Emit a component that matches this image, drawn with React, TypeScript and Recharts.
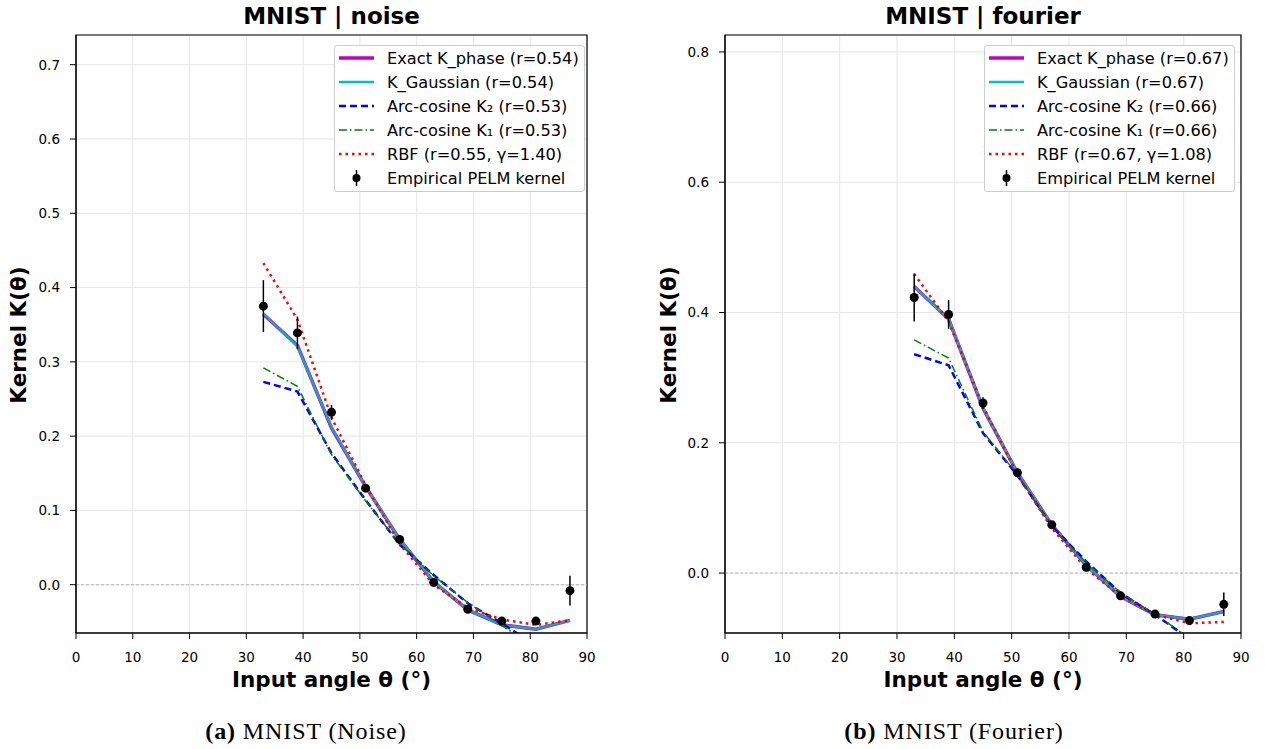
import React from 'react';
import {
  ComposedChart,
  Line,
  Scatter,
  ErrorBar,
  XAxis,
  YAxis,
  CartesianGrid,
  ReferenceLine,
  ReferenceArea,
} from 'recharts';

// input angles (degrees)
const angles = [33, 39, 45, 51, 57, 63, 69, 75, 81, 87];
const xTicks = [0, 10, 20, 30, 40, 50, 60, 70, 80, 90];

// MNIST | noise
const noiseEmp = [0.375, 0.339, 0.232, 0.13, 0.061, 0.003, -0.033, -0.049, -0.049, -0.008];
const noiseErr = [0.035, 0.022, 0.01, 0.005, 0.004, 0.004, 0.004, 0.004, 0.004, 0.02];
const noisePhase = [0.364, 0.322, 0.211, 0.132, 0.061, 0.004, -0.034, -0.054, -0.06, -0.048];
const noiseGauss = [0.365, 0.321, 0.212, 0.132, 0.061, 0.004, -0.034, -0.054, -0.06, -0.048];
const noiseArc2 = [0.273, 0.26, 0.177, 0.114, 0.054, 0.013, -0.025, -0.052, -0.082, -0.108];
const noiseArc1 = [0.292, 0.267, 0.175, 0.113, 0.055, 0.012, -0.024, -0.055, -0.085, -0.112];
const noiseRbf = [0.433, 0.357, 0.225, 0.134, 0.055, 0.0, -0.031, -0.047, -0.054, -0.048];
const noiseTicks = [0, 0.1, 0.2, 0.3, 0.4, 0.5, 0.6, 0.7];
const noiseLabels = ['0.54', '0.54', '0.53', '0.53', '0.55', '1.40'];

// MNIST | fourier
const fourierEmp = [0.423, 0.397, 0.261, 0.154, 0.074, 0.009, -0.035, -0.063, -0.073, -0.048];
const fourierErr = [0.037, 0.022, 0.009, 0.005, 0.004, 0.004, 0.004, 0.004, 0.004, 0.018];
const fourierPhase = [0.44, 0.39, 0.253, 0.154, 0.074, 0.012, -0.036, -0.064, -0.071, -0.059];
const fourierGauss = [0.44, 0.39, 0.254, 0.154, 0.074, 0.012, -0.036, -0.064, -0.071, -0.059];
const fourierArc2 = [0.336, 0.319, 0.215, 0.15, 0.072, 0.018, -0.031, -0.064, -0.101, -0.135];
const fourierArc1 = [0.358, 0.33, 0.217, 0.151, 0.071, 0.016, -0.03, -0.063, -0.1, -0.135];
const fourierRbf = [0.459, 0.386, 0.256, 0.151, 0.069, 0.007, -0.036, -0.064, -0.077, -0.075];
const fourierTicks = [0, 0.2, 0.4, 0.6, 0.8];
const fourierLabels = ['0.67', '0.67', '0.66', '0.66', '0.67', '1.08'];

const FONT = '"DejaVu Sans", sans-serif';

const rows = (emp: number[], err: number[], phase: number[], gauss: number[], arc2: number[], arc1: number[], rbf: number[]) =>
  angles.map((a, i) => ({
    angle: a,
    emp: emp[i],
    err: err[i],
    phase: phase[i],
    gauss: gauss[i],
    arc2: arc2[i],
    arc1: arc1[i],
    rbf: rbf[i],
  }));

const Dot = (p: any) => <circle cx={p.cx} cy={p.cy} r={4.5} fill="#000" />;

const LegendBox = ({ labels, left }: { labels: string[]; left: number }) => {
  const items = [
    { text: `Exact K_phase (r=${labels[0]})`, color: '#bf00bf', w: 3.5, dash: '' },
    { text: `K_Gaussian (r=${labels[1]})`, color: '#00bfbf', w: 2.5, dash: '' },
    { text: `Arc-cosine K₂ (r=${labels[2]})`, color: '#0000ff', w: 2.5, dash: '7 4' },
    { text: `Arc-cosine K₁ (r=${labels[3]})`, color: '#008000', w: 1.5, dash: '8 3 1.5 3' },
    { text: `RBF (r=${labels[4]}, γ=${labels[5]})`, color: '#ff0000', w: 2.5, dash: '2.5 4' },
  ];
  return (
    <div
      style={{
        position: 'absolute',
        left,
        top: 45,
        width: 251,
        height: 147,
        boxSizing: 'border-box',
        border: '1px solid #cccccc',
        borderRadius: 3,
        background: 'rgba(255,255,255,0.85)',
        fontFamily: FONT,
        fontSize: 16.2,
        color: '#000',
      }}
    >
      {items.map((it, i) => (
        <div key={i} style={{ position: 'absolute', left: 0, top: i * 24, height: 24, display: 'flex', alignItems: 'center' }}>
          <svg width={52} height={24}>
            <line x1={4} x2={39} y1={12} y2={12} stroke={it.color} strokeWidth={it.w} strokeDasharray={it.dash || undefined} />
          </svg>
          <span style={{ whiteSpace: 'nowrap' }}>{it.text}</span>
        </div>
      ))}
      <div style={{ position: 'absolute', left: 0, top: 5 * 24, height: 24, display: 'flex', alignItems: 'center' }}>
        <svg width={52} height={24}>
          <line x1={21.5} x2={21.5} y1={4} y2={20} stroke="#000" strokeWidth={1.5} />
          <circle cx={21.5} cy={12} r={4} fill="#000" />
        </svg>
        <span style={{ whiteSpace: 'nowrap' }}>Empirical PELM kernel</span>
      </div>
    </div>
  );
};

interface PanelProps {
  left: number;
  title: string;
  caption: string;
  tag: string;
  data: any[];
  domain: [number, number];
  yTicks: number[];
  labels: string[];
  marginLeft: number;
  marginRight: number;
  legendLeft: number;
  captionCenter: number;
}

const W = 640;
const H = 749;

const Panel = (p: PanelProps) => {
  const plotLeft = p.marginLeft + 60;
  const plotRight = W - p.marginRight;
  const cx = (plotLeft + plotRight) / 2;
  return (
    <div style={{ position: 'absolute', left: p.left, top: 0, width: W, height: H }}>
      <ComposedChart
        width={W}
        height={H}
        data={p.data}
        margin={{ top: 35, right: p.marginRight, bottom: 86, left: p.marginLeft }}
        style={{ fontFamily: FONT }}
      >
        <CartesianGrid stroke="#e6e6e6" strokeWidth={1} />
        <XAxis
          dataKey="angle"
          type="number"
          domain={[0, 90]}
          ticks={xTicks}
          height={30}
          tickSize={6}
          tickMargin={13}
          stroke="#000"
          tick={{ fill: '#000', fontSize: 13.5 }}
        />
        <YAxis
          type="number"
          domain={p.domain}
          allowDataOverflow
          ticks={p.yTicks}
          width={60}
          tickSize={6}
          tickMargin={10}
          stroke="#000"
          tickFormatter={(v: number) => v.toFixed(1)}
          tick={{ fill: '#000', fontSize: 13.5 }}
        />
        <ReferenceLine y={0} stroke="#aaaaaa" strokeDasharray="3 2" strokeWidth={0.8} />
        <Line dataKey="phase" stroke="#bf00bf" strokeWidth={3.5} dot={false} isAnimationActive={false} />
        <Line dataKey="gauss" stroke="#00bfbf" strokeOpacity={0.85} strokeWidth={2.5} dot={false} isAnimationActive={false} />
        <Line dataKey="arc2" stroke="#0000ff" strokeWidth={2.5} strokeDasharray="7 4" dot={false} isAnimationActive={false} />
        <Line dataKey="arc1" stroke="#008000" strokeWidth={1.5} strokeDasharray="8 3 1.5 3" dot={false} isAnimationActive={false} />
        <Line dataKey="rbf" stroke="#ff0000" strokeWidth={2.5} strokeDasharray="2.5 4" dot={false} isAnimationActive={false} />
        <Scatter dataKey="emp" shape={Dot} isAnimationActive={false}>
          <ErrorBar dataKey="err" direction="y" width={0} stroke="#000" strokeWidth={1.5} isAnimationActive={false} />
        </Scatter>
        <ReferenceArea x1={0} x2={90} y1={p.domain[0]} y2={p.domain[1]} fill="none" stroke="#000" strokeWidth={1.2} />
      </ComposedChart>
      <div style={{ position: 'absolute', left: cx - 200, width: 400, top: 3, textAlign: 'center', fontFamily: FONT, fontWeight: 'bold', fontSize: 23 }}>
        {p.title}
      </div>
      <div style={{ position: 'absolute', left: cx - 200, width: 400, top: 667, textAlign: 'center', fontFamily: FONT, fontWeight: 'bold', fontSize: 21.5 }}>
        Input angle θ (°)
      </div>
      <div
        style={{
          position: 'absolute',
          left: 18.5 - 100,
          top: 335 - 13,
          width: 200,
          height: 26,
          lineHeight: '26px',
          textAlign: 'center',
          transform: 'rotate(-90deg)',
          fontFamily: FONT,
          fontWeight: 'bold',
          fontSize: 21.5,
        }}
      >
        Kernel K(θ)
      </div>
      <div
        style={{
          position: 'absolute',
          left: p.captionCenter - 200,
          width: 400,
          top: 718,
          textAlign: 'center',
          whiteSpace: 'nowrap',
          fontFamily: '"Liberation Serif", "DejaVu Serif", serif',
          fontSize: 24,
          letterSpacing: 0.9,
        }}
      >
        <b>({p.tag})</b> {p.caption}
      </div>
      <LegendBox labels={p.labels} left={p.legendLeft} />
    </div>
  );
};

export default function App() {
  const noiseData = rows(noiseEmp, noiseErr, noisePhase, noiseGauss, noiseArc2, noiseArc1, noiseRbf);
  const fourierData = rows(fourierEmp, fourierErr, fourierPhase, fourierGauss, fourierArc2, fourierArc1, fourierRbf);
  return (
    <div style={{ position: 'absolute', left: 0, top: 0, width: 1265, height: 749, background: '#fff', overflow: 'hidden' }}>
      <Panel
        left={0}
        title="MNIST | noise"
        caption="MNIST (Noise)"
        tag="a"
        data={noiseData}
        domain={[-0.065, 0.74]}
        yTicks={noiseTicks}
        labels={noiseLabels}
        marginLeft={16}
        marginRight={53}
        legendLeft={334}
        captionCenter={306}
      />
      <Panel
        left={650}
        title="MNIST | fourier"
        caption="MNIST (Fourier)"
        tag="b"
        data={fourierData}
        domain={[-0.092, 0.826]}
        yTicks={fourierTicks}
        labels={fourierLabels}
        marginLeft={15}
        marginRight={49}
        legendLeft={334}
        captionCenter={304}
      />
    </div>
  );
}
